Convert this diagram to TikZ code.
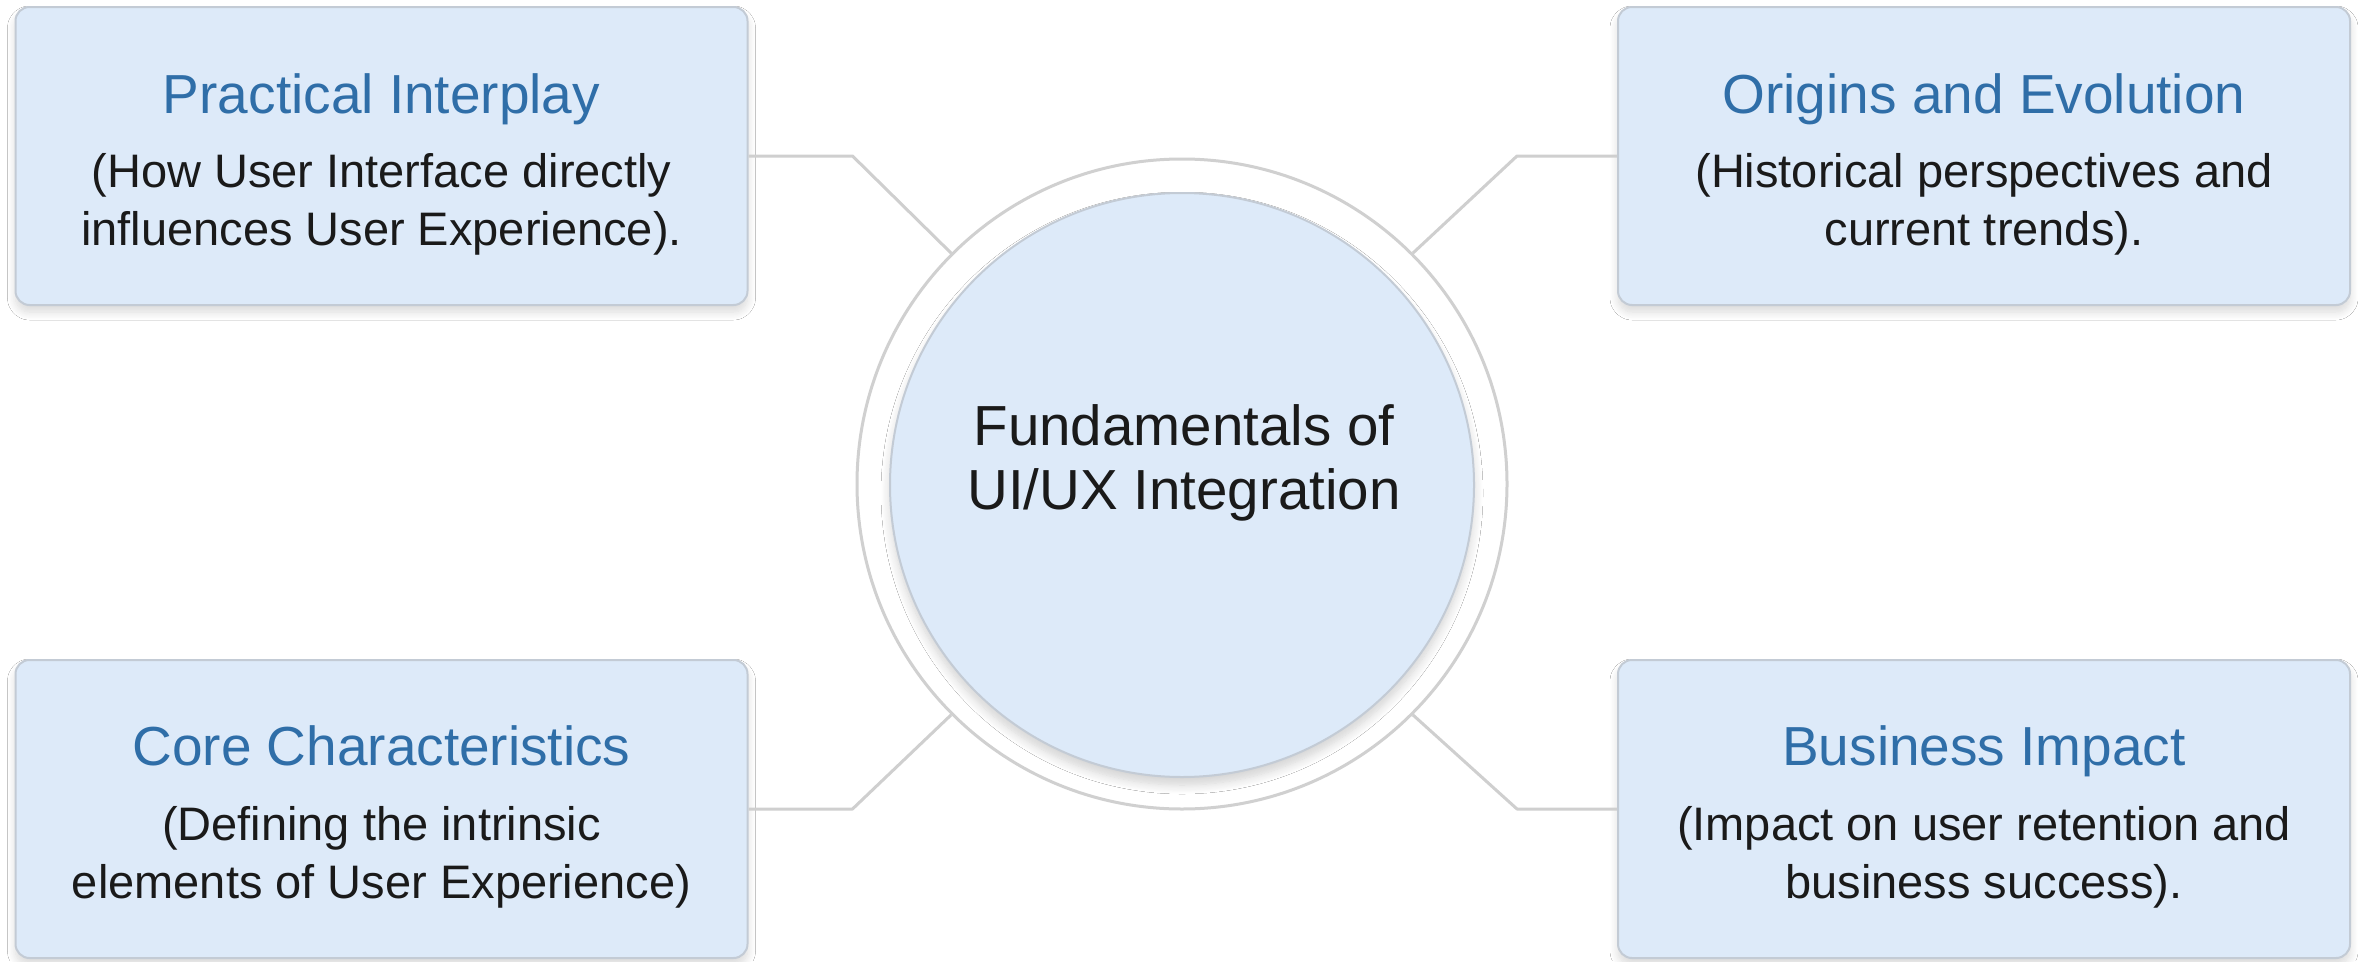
\documentclass[tikz,border=0pt]{standalone}
\usepackage{fontspec}
\setmainfont{Liberation Sans}
\usetikzlibrary{shadows.blur}
\definecolor{boxfill}{HTML}{DDEAF9}
\definecolor{boxline}{HTML}{C3CBD5}
\definecolor{titleblue}{HTML}{2F6EA8}
\definecolor{conn}{HTML}{CFCFCF}
\definecolor{ringc}{HTML}{D0D0D0}
\definecolor{txt}{HTML}{1A1A1A}
\begin{document}
\begin{tikzpicture}[x=1pt,y=-1pt,
  topicbox/.style={draw=boxline, line width=2pt, fill=boxfill, rounded corners=14pt,
    minimum width=732pt, minimum height=298pt, inner sep=0pt,
    blur shadow={shadow xshift=0pt, shadow yshift=-7pt, shadow opacity=15, shadow blur steps=12, shadow blur radius=8pt}},
  ttl/.style={text=titleblue, font=\fontsize{55}{65}\selectfont, inner sep=0pt, anchor=base},
  bodytxt/.style={text=txt, font=\fontsize{47}{58}\selectfont, inner sep=0pt, anchor=base},
  centertxt/.style={text=txt, font=\fontsize{56.5}{66}\selectfont, inner sep=0pt, anchor=base},
  connector/.style={draw=conn, line width=3pt, line join=round},
]
\useasboundingbox (0,0) rectangle (2358,961);
\fill[white] (0,0) rectangle (2358,961);

% boxes
\node[topicbox] (tl) at (381.5,156) {};
\node[topicbox] (tr) at (1984,156) {};
\node[topicbox] (bl) at (381.5,809) {};
\node[topicbox] (br) at (1984,809) {};

% centre
\node[circle, draw=ringc, line width=3pt, fill=white, minimum size=650pt, inner sep=0pt] (ring) at (1182,484) {};
\node[circle, draw=boxline, line width=2pt, fill=boxfill, minimum size=584pt, inner sep=0pt,
  blur shadow={shadow xshift=0pt, shadow yshift=-8pt, shadow opacity=18, shadow blur steps=12, shadow blur radius=9pt}] (core) at (1182,485) {};

% connectors
\draw[connector] (tl.east) -- ++(104,0) -- (ring.135);
\draw[connector] (tr.west) -- ++(-100,0) -- (ring.45);
\draw[connector] (bl.east) -- ++(104,0) -- (ring.-135);
\draw[connector] (br.west) -- ++(-100,0) -- (ring.-45);

% texts
\node[centertxt] (c1) at (1184,445) {Fundamentals of};
\node[centertxt] (c2) at (1184,509) {UI/UX Integration};

\node[ttl] (tlt) at (381.5,113) {Practical Interplay};
\node[bodytxt] (tlb1) at (381.5,187) {(How User Interface directly};
\node[bodytxt] (tlb2) at (381.5,245) {influences User Experience).};

\node[ttl] (trt) at (1984,113) {Origins and Evolution};
\node[bodytxt] (trb1) at (1984,187) {(Historical perspectives and};
\node[bodytxt] (trb2) at (1984,245) {current trends).};

\node[ttl] (blt) at (381.5,765) {Core Characteristics};
\node[bodytxt] (blb1) at (381.5,840) {(Defining the intrinsic};
\node[bodytxt] (blb2) at (381.5,898) {elements of User Experience)};

\node[ttl] (brt) at (1984,765) {Business Impact};
\node[bodytxt] (brb1) at (1984,840) {(Impact on user retention and};
\node[bodytxt] (brb2) at (1984,898) {business success).};
\end{tikzpicture}
\end{document}
